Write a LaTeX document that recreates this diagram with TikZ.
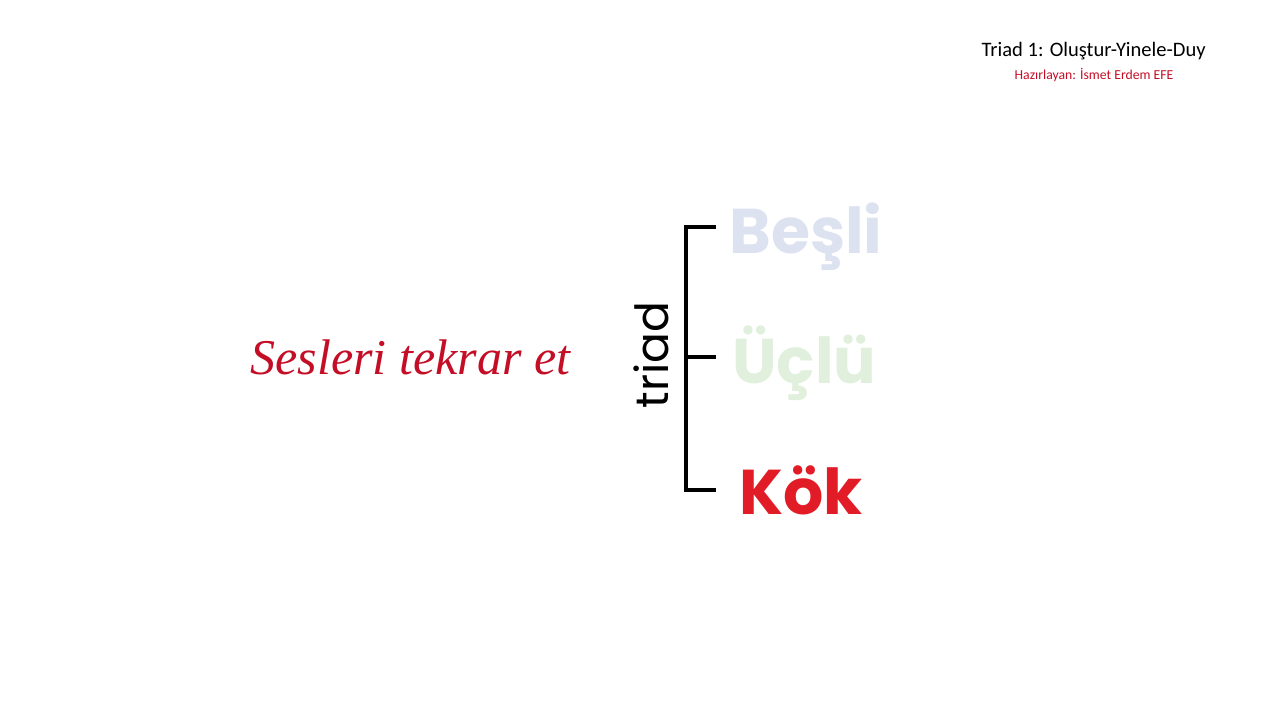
\documentclass[tikz,border=0pt]{standalone}
\usepackage{fontspec}
\setmainfont{Liberation Serif}
\newfontfamily\headfont{Carlito}
\newfontfamily\roundfont{Poppins}
\newfontfamily\triadfont{Poppins}

\definecolor{besli}{RGB}{221,226,240}
\definecolor{uclu}{RGB}{224,240,220}
\definecolor{kok}{RGB}{226,28,38}
\definecolor{koyukirmizi}{RGB}{196,14,38}

\tikzset{
	nota/.style={font=\roundfont\bfseries\fontsize{36}{36}\selectfont, inner sep=0pt, anchor=base west},
	kol/.style={line width=2.3pt}
}

\begin{document}
\begin{tikzpicture}[x=0.02cm, y=-0.02cm]
		\useasboundingbox (0,0) rectangle (1280,720);
		\node(baslik) at (1206,51) [anchor=east, inner sep=0pt] {\headfont\fontsize{11.7}{12}\selectfont Triad 1: Oluştur-Yinele-Duy};
		\node(hazir) at (1094,75) [inner sep=0pt, text=koyukirmizi] {\headfont\fontsize{7.8}{8}\selectfont Hazırlayan: İsmet Erdem EFE};
		
		\node(ses) at (250,374) [anchor=base west, inner sep=0pt, text=koyukirmizi] {\itshape\fontsize{28.5}{30}\selectfont Sesleri tekrar et};
		
		\node(triad) at (668,355) [rotate=90, anchor=base, inner sep=0pt] {\triadfont\fontsize{26}{26}\selectfont triad};
		
		\coordinate(ust) at (716,227);
		\coordinate(orta) at (716,357);
		\coordinate(alt) at (716,490);
		\draw[kol] (ust) -| (686,490) -- (alt);
		\draw[kol] (686,357) -- (orta);
		
		\node(besli) at (729,253) [nota, text=besli] {Beşli};
		\node(uclu) at (732,383) [nota, text=uclu] {Üçlü};
		\node(kok) at (739,514) [nota, text=kok] {Kök};
	\end{tikzpicture}
\end{document}
